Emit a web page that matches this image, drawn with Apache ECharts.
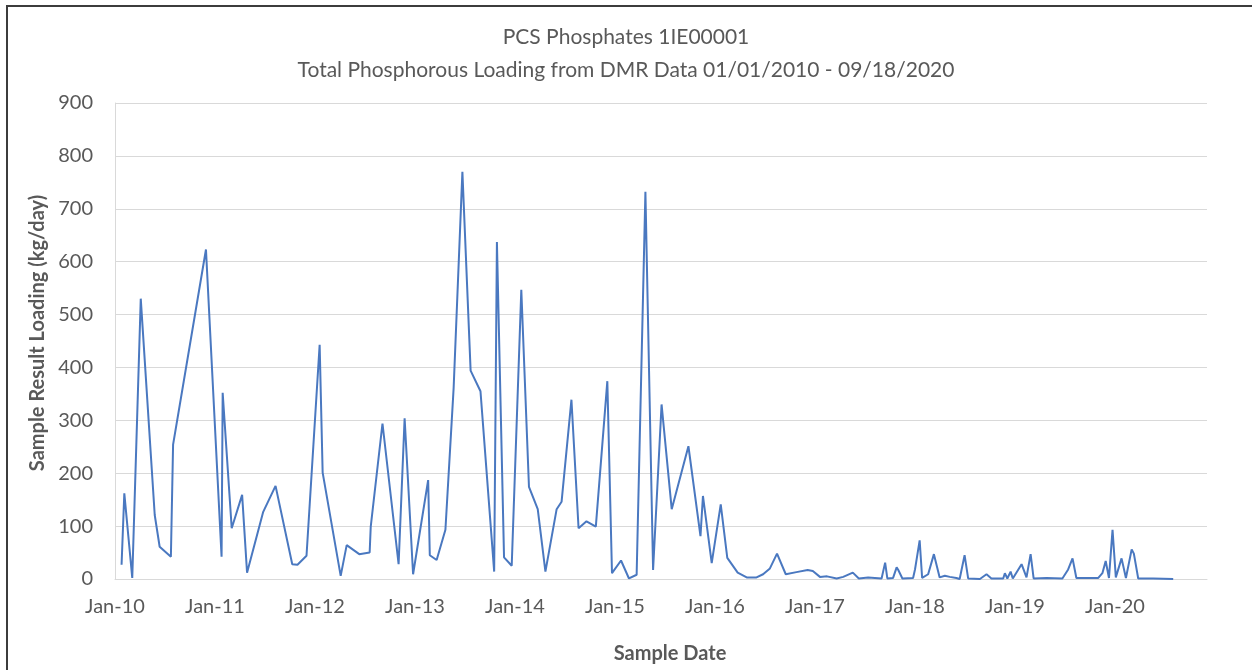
<!DOCTYPE html>
<html>
<head>
<meta charset="utf-8">
<script src="https://cdn.jsdelivr.net/npm/echarts@6/dist/echarts.min.js"></script>
<style>
html,body{margin:0;padding:0;background:#fff;}
#chart{width:1252px;height:670px;}
</style>
</head>
<body>
<div id="chart"></div>
<script>
const titleLine1 = 'PCS Phosphates 1IE00001';
const titleLine2 = 'Total Phosphorous Loading from DMR Data 01/01/2010 - 09/18/2020';
const yAxisTitle = 'Sample Result Loading (kg/day)';
const xAxisTitle = 'Sample Date';

const sampleDates = [
  '2010-01-25','2010-02-04','2010-03-05','2010-04-05','2010-05-26','2010-06-13','2010-07-24','2010-08-01','2010-11-29',
  '2011-01-25','2011-01-29','2011-03-03','2011-04-10','2011-04-28','2011-06-26','2011-08-10','2011-10-10','2011-10-29','2011-12-01',
  '2012-01-18','2012-01-29','2012-04-04','2012-04-26','2012-06-11','2012-07-19','2012-07-23','2012-09-04','2012-11-02','2012-11-24','2012-12-25',
  '2013-02-18','2013-02-24','2013-03-21','2013-04-22','2013-05-22','2013-06-23','2013-07-23','2013-08-28','2013-10-17','2013-10-27','2013-11-22','2013-12-20',
  '2014-01-24','2014-02-21','2014-03-25','2014-04-22','2014-06-02','2014-06-20','2014-07-26','2014-08-21','2014-09-19','2014-10-23','2014-12-04','2014-12-21',
  '2015-01-23','2015-02-21','2015-03-21','2015-04-22','2015-05-20','2015-06-20','2015-07-27','2015-09-26','2015-11-09','2015-11-18','2015-12-20',
  '2016-01-22','2016-02-15','2016-03-24','2016-04-26','2016-06-01','2016-06-25','2016-07-20','2016-08-15','2016-09-16','2016-10-25','2016-12-05','2016-12-24',
  '2017-01-19','2017-02-14','2017-03-21','2017-04-14','2017-05-19','2017-06-10','2017-07-14','2017-07-20','2017-09-01','2017-09-14','2017-09-22','2017-10-13','2017-10-26','2017-11-01','2017-11-07','2017-11-16','2017-12-25',
  '2018-01-01','2018-01-18','2018-01-27','2018-02-18','2018-03-11','2018-04-01','2018-04-20','2018-05-08','2018-06-01','2018-06-13','2018-07-01','2018-07-14','2018-08-26','2018-09-19','2018-10-07','2018-11-19','2018-11-25','2018-12-04','2018-12-16','2018-12-24',
  '2019-01-25','2019-02-12','2019-02-27','2019-03-10','2019-04-26','2019-06-23','2019-07-14','2019-07-30','2019-08-13','2019-09-01','2019-11-01','2019-11-16','2019-11-28','2019-12-10','2019-12-23',
  '2020-01-04','2020-01-25','2020-02-10','2020-03-02','2020-03-10','2020-03-26','2020-05-20','2020-08-01'
];
const loadingKgPerDay = [
  27,162,2,530,121,61,42,254,623,
  42,352,96,159,12,127,176,28,27,44,
  443,201,6,64,47,50,99,294,28,304,9,
  187,45,36,93,361,770,394,355,14,637,41,25,
  547,174,132,14,132,146,339,96,109,99,374,11,
  35,1,8,732,17,330,132,251,81,157,30,
  141,40,12,3,3,9,20,48,9,13,17,15,
  4,5,1,4,12,1,3,0,1,31,1,2,22,17,20,1,2,
  18,73,2,9,47,3,6,4,2,0,45,1,0,9,1,1,11,1,14,1,
  28,3,47,1,2,1,18,39,2,2,2,11,34,2,93,
  3,39,2,56,48,1,1,0
];
const yearTicks = [2010,2011,2012,2013,2014,2015,2016,2017,2018,2019,2020];
const yTicks = [0,100,200,300,400,500,600,700,800,900];

function toDecimalYear(s) {
  const p = s.split('-').map(Number);
  const t = Date.UTC(p[0], p[1] - 1, p[2]);
  const t0 = Date.UTC(p[0], 0, 1), t1 = Date.UTC(p[0] + 1, 0, 1);
  return p[0] + (t - t0) / (t1 - t0);
}
const seriesData = sampleDates.map((d, i) => [toDecimalYear(d), loadingKgPerDay[i]]);

const txt = '#595959';
const fontFam = 'Lato, "Open Sans", sans-serif';
const chart = echarts.init(document.getElementById('chart'), null, {renderer: 'canvas'});
chart.setOption({
  animation: false,
  backgroundColor: '#fff',
  title: [
    {text: titleLine1, left: 'center', top: 22, textStyle: {color: txt, fontSize: 21, fontWeight: 'normal', fontFamily: fontFam}},
    {text: titleLine2, left: 'center', top: 55, textStyle: {color: txt, fontSize: 21, fontWeight: 'normal', fontFamily: fontFam}}
  ],
  graphic: [{
    type: 'rect', shape: {x: 7, y: 6, width: 1260, height: 680},
    style: {fill: 'none', stroke: '#3c3c3c', lineWidth: 2}, silent: true
  }],
  grid: {left: 115, right: 45, top: 103, bottom: 91, containLabel: false},
  xAxis: {
    type: 'value', min: yearTicks[0], max: 2020.92, interval: 1,
    name: xAxisTitle, nameLocation: 'middle', nameGap: 65,
    nameTextStyle: {color: txt, fontSize: 20, fontWeight: 'bold', fontFamily: fontFam, padding: [0, 0, 0, 18]},
    axisLine: {show: true, lineStyle: {color: '#d9d9d9', width: 1}},
    axisTick: {show: false},
    splitLine: {show: false},
    axisLabel: {
      color: txt, fontSize: 20, fontFamily: fontFam, margin: 18, showMaxLabel: false,
      formatter: v => yearTicks.indexOf(Math.round(v * 1000) / 1000) >= 0 ? 'Jan-' + String(v).slice(2) : ''
    }
  },
  yAxis: {
    type: 'value', min: yTicks[0], max: yTicks[yTicks.length - 1], interval: 100,
    name: yAxisTitle, nameLocation: 'middle', nameGap: 66,
    nameTextStyle: {color: txt, fontSize: 20, fontWeight: 'bold', fontFamily: fontFam, padding: [0, 0, 0, 16]},
    axisLine: {show: true, lineStyle: {color: '#d9d9d9', width: 1}},
    axisTick: {show: false},
    splitLine: {show: true, lineStyle: {color: '#d9d9d9', width: 1}},
    axisLabel: {color: txt, fontSize: 20, fontFamily: fontFam, margin: 22}
  },
  series: [{
    type: 'line', data: seriesData, symbol: 'none', smooth: false,
    lineStyle: {color: '#4a78c0', width: 2}
  }]
});
</script>
</body>
</html>
